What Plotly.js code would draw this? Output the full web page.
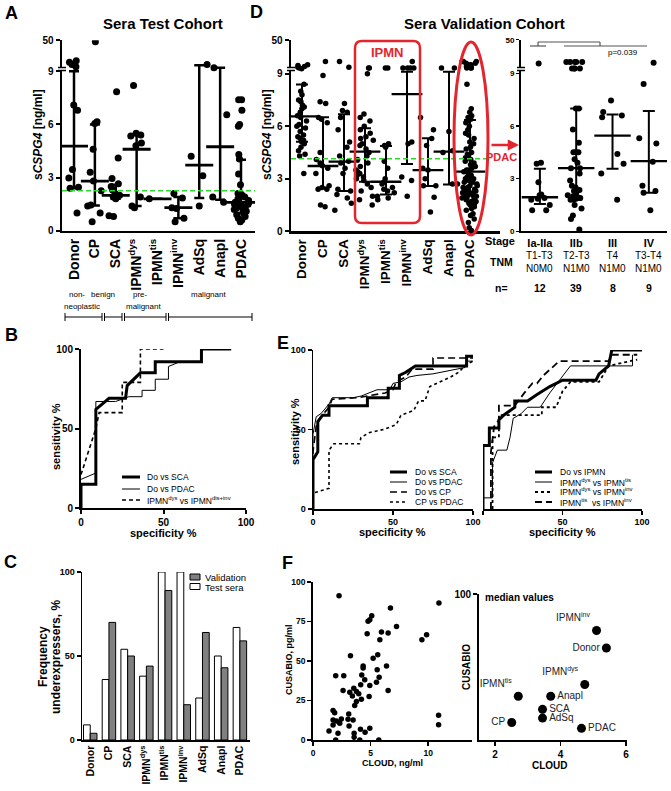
<!DOCTYPE html>
<html>
<head>
<meta charset="utf-8">
<script src="https://cdn.plot.ly/plotly-3.0.1.min.js"></script>
<style>html,body{margin:0;padding:0;background:#fff}#fig{width:671px;height:791px}</style>
</head>
<body>
<div id="fig"></div>
<script>
var cats = ['Donor', 'CP', 'SCA', 'IPMN<sup>dys</sup>', 'IPMN<sup>tis</sup>', 'IPMN<sup>inv</sup>', 'AdSq', 'Anapl', 'PDAC'];

// A - sera test cohort, sCSPG4 ng/ml (values above 9 sit on the compressed 9-50 segment)
var testDonor = [15, 18, 21, 23, 7.1, 6.8, 3.45, 2.98, 2.45, 2.4, 1.0];
var testCP = [48, 6.15, 6.05, 4.6, 3.3, 2.8, 2.25, 1.45, 1.4, 1.0, 0.5];
var testSCA = [7.85, 4.1, 2.95, 2.65, 2.5, 2.3, 2.1, 2.0, 1.9, 1.8, 0.85, 0.8];
var testDys = [8.2, 5.5, 5.4, 5.35, 4.95, 4.8, 1.9, 1.4, 1.3];
var testTis = [1.8];
var testInv = [2.1, 1.85, 1.3, 1.25, 0.7, 0.5];
var testAdSq = [18, 4.2, 3.1, 1.4];
var testAnapl = [13.7, 6.55, 1.9, 1.6];
var testPDAC = [7.4, 7.4, 6.8, 6.0, 5.9, 4.3, 4.05, 3.2, 2.6, 2.1, 2.1, 2.0, 1.9, 1.8, 1.7, 1.6, 1.6,
  1.5, 1.5, 1.4, 1.4, 1.3, 1.3, 1.2, 1.1, 1.0, 0.9, 0.8, 0.7, 0.6, 0.5];
var testMed = [4.77, 2.8, 2.0, 4.6, 1.8, 1.3, 3.7, 4.74, 1.6];
var testQ1 = [2.4, 1.42, 1.8, 1.4, 1.8, 0.7, 1.85, 1.75, 1.0];
var testQ3 = [9, 6.0, 2.6, 5.4, 1.8, 1.9, 17, 13.7, 4.0];
var testCut = 2.26;

// D - sera validation cohort
var valDonor = [15, 16, 17, 18, 19, 20, 8.4, 8.0, 7.8, 7.5, 7.4, 7.2, 7.1, 7.0, 6.8, 6.6, 6.5, 6.3, 6.1,
  6.0, 5.9, 5.7, 5.5, 5.4, 5.3, 5.2, 5.1, 5.0, 4.8, 4.6, 4.4, 4.3, 3.3];
var valCP = [24, 8.9, 7.4, 7.3, 6.5, 6.4, 6.2, 4.5, 4.1, 3.9, 3.75, 3.6, 3.3, 2.6, 2.5, 2.4, 2.4, 1.5, 1.4];
var valSCA = [24, 17, 7.3, 6.9, 6.8, 6.5, 5.8, 5.1, 4.8, 4.3, 4.0, 3.9, 3.6, 3.3, 2.4, 2.3, 2.1, 1.9, 1.6, 1.2];
var valDys = [16, 16, 9.0, 6.7, 6.5, 6.3, 6.0, 5.8, 5.6, 5.4, 5.3, 5.2, 5.0, 4.9, 4.7, 4.5, 4.3, 4.1, 3.9,
  3.7, 3.5, 3.4, 3.3, 3.2, 3.1, 3.0, 2.9, 2.7, 2.5, 2.3, 2.0, 1.8, 1.5];
var valTis = [16, 16, 5.0, 4.9, 4.8, 4.0, 3.6, 3.0, 2.8, 2.7, 2.5, 2.4, 2.3, 2.2, 2.0, 1.9, 1.8];
var valInv = [24, 16, 16, 16, 16, 5.1, 5.0, 3.1, 2.9, 2.0];
var valAdSq = [6.5, 5.8, 5.3, 4.9, 3.6, 3.5, 3.0, 2.6, 2.6, 1.95, 1.1];
var valAnapl = [16, 16, 5.7, 4.6, 4.5, 2.7, 2.7];
var valPDAC = [24, 24, 24, 22, 22, 20, 20, 18, 18, 16, 16, 16,
  8.4, 7.0, 6.8, 6.6, 6.5, 6.4, 6.3, 6.2, 6.0, 5.8, 5.6, 5.5, 5.3, 5.1, 5.0, 4.8, 4.7, 4.5, 4.4, 4.3,
  4.2, 4.1, 4.0, 3.9, 3.8, 3.7, 3.6, 3.5, 3.5, 3.4, 3.3, 3.2, 3.1, 3.0, 3.0, 2.9, 2.8, 2.8, 2.7, 2.6,
  2.6, 2.5, 2.5, 2.4, 2.4, 2.3, 2.3, 2.2, 2.2, 2.2, 2.1, 2.1, 2.0, 2.0, 2.0, 1.9, 1.9, 1.8, 1.8, 1.7,
  1.7, 1.6, 1.6, 1.5, 1.4, 1.3, 1.2, 1.0, 0.9, 0.7, 0.5, 0.2, 0.05];
var valMed = [6.57, 3.73, 3.98, 4.55, 2.83, 7.83, 3.5, 4.55, 3.41];
var valQ1 = [5.12, 2.5, 2.3, 2.83, 2.1, 3.85, 2.59, 2.68, 2.2];
var valQ3 = [8.38, 6.51, 6.68, 5.88, 4.87, 11.5, 5.31, 11.5, 6.36];
var valCut = 4.15;

// D right - PDAC by stage
var stages = ['Ia-IIa', 'IIb', 'III', 'IV'];
var tnm = ['T1-T3<br>N0M0', 'T2-T3<br>N1M0', 'T4<br>N1M0', 'T3-T4<br>N1M0'];
var nPat = [12, 39, 8, 9];
var stIa = [21, 3.9, 3.85, 2.8, 2.1, 2.05, 1.9, 1.85, 1.8, 1.5, 1.2, 1.2];
var stIIb = [23, 23, 23, 23, 23, 15, 15, 15, 15, 7.0, 7.0, 5.8, 5.05, 4.5, 4.5, 4.5, 4.1, 3.9, 3.6, 3.6,
  3.3, 2.9, 2.6, 2.5, 2.35, 2.3, 2.2, 2.05, 2.0, 1.95, 1.9, 1.85, 1.8, 1.8, 1.5, 1.3, 0.9, 0.7, 0.1];
var stIII = [7.45, 6.8, 6.6, 6.5, 4.4, 3.85, 3.3, 1.8];
var stIV = [22, 8.4, 5.3, 5.0, 3.97, 2.6, 2.3, 2.2, 1.2];
var stMed = [1.94, 3.6, 5.45, 4.0];
var stQ1 = [1.55, 1.8, 3.56, 2.2];
var stQ3 = [3.56, 7.0, 6.65, 6.85];

// B - ROC, test sera
var bSCAx = [0, 0, 9, 9, 17, 27, 28, 36, 45, 45, 73, 73, 91];
var bSCAy = [0, 15, 15, 62, 69, 69, 77, 85, 85, 92, 92, 100, 100];
var bPDACx = [0, 9, 9, 21, 29, 37, 37, 45, 45, 53, 53, 60, 73, 73, 91];
var bPDACy = [18, 22, 67, 67, 70, 70, 74, 74, 81, 81, 89, 92, 92, 100, 100];
var bIPMNx = [0, 9, 11, 25, 25, 36, 36, 50];
var bIPMNy = [21, 50, 60, 60, 79, 79, 100, 100];

// E - ROC, validation sera
var eSCAx = [0, 0, 3, 3, 6, 10, 10, 34, 34, 47, 47, 54, 54, 58, 64, 96, 96, 100];
var eSCAy = [0, 31, 36, 55, 59, 59, 65, 65, 70, 70, 76, 76, 84, 86, 90, 90, 96, 96];
var ePDACx = [0, 0, 2, 5, 10, 12, 25, 30, 40, 48, 50, 55, 60, 65, 75, 85, 95, 96, 100];
var ePDACy = [0, 47, 58, 60, 66, 70, 70, 71, 75, 75, 79, 80, 83, 84, 85, 87, 89, 93, 93];
var eCPx = [0, 0, 2, 5, 10, 12, 28, 45, 50, 52, 58, 62, 75, 75, 100];
var eCPy = [0, 36, 52, 58, 64, 69, 70, 73, 75, 80, 83, 88, 88, 95, 95];
var eCPPDx = [0, 0, 10, 10, 13, 29, 30, 35, 44, 52, 55, 63, 66, 70, 73, 80, 86, 91, 96, 100];
var eCPPDy = [0, 10, 13, 37, 41, 41, 45, 48, 50, 53, 59, 62, 68, 68, 77, 80, 83, 86, 91, 93];
var eDoIx = [0, 0, 4, 4, 10, 10, 13, 20, 20, 28, 34, 42, 50, 71, 73, 79, 81, 100];
var eDoIy = [0, 40, 40, 51, 51, 56, 59, 64, 68, 68, 72, 77, 81, 81, 85, 90, 100, 100];
var eDysTisx = [0, 6, 6, 9, 15, 17, 19, 24, 28, 36, 42, 55, 94, 94];
var eDysTisy = [7, 7, 29, 37, 37, 45, 57, 60, 64, 64, 73, 90, 90, 97];
var eDysInvx = [6, 6, 10, 10, 37, 37, 46, 50, 55, 73, 79, 97];
var eDysInvy = [0, 45, 45, 59, 59, 64, 64, 74, 80, 80, 90, 94];
var eTisInvx = [5, 5, 7, 10, 10, 20, 26, 31, 34, 38, 48, 79, 81, 97];
var eTisInvy = [0, 36, 52, 56, 65, 65, 73, 79, 79, 84, 93, 93, 97, 97];

// C - frequency of underexpressers, %
var freqTest = [9, 36, 54, 38, 100, 100, 25, 50, 67];
var freqVal = [4, 70, 50, 44, 89, 21, 64, 43, 59];

// F - CLOUD vs CUSABIO
var cloudX = [2.26, 6.72, 7.25, 10.93, 5.1, 4.93, 4.78, 4.7, 6.52, 5.94, 5.8, 9.45, 9.86, 3.25, 5.62, 5.22,
  4.35, 4.35, 6.38, 5.57, 5.74, 1.97, 2.67, 4.23, 4.49, 5.51, 4.93, 4.14, 6.52, 2.61, 3.19, 3.54, 3.77,
  3.97, 3.42, 4.87, 4.2, 3.77, 3.62, 1.74, 1.88, 3.1, 10.9, 2.46, 3.04, 3.48, 1.74, 2.03, 2.32, 1.74,
  3.13, 10.9, 1.39, 2.17, 3.57, 4.12, 4.52, 4.93, 3.57, 1.97, 4.06, 5.71];
var cusabioY = [91.3, 83.5, 71.9, 86.7, 78.6, 76.1, 75.1, 67.2, 67.7, 68.3, 63.4, 63.4, 66.6, 53.3, 53.9,
  51.8, 46.9, 45.5, 46.9, 44.4, 39.7, 40.6, 40.6, 41.2, 38.1, 36.6, 34.5, 34.9, 31.3, 31.3, 30.2, 32.8,
  30.7, 29.2, 27.9, 27.5, 25.8, 24.3, 21.8, 18.6, 17.3, 16.5, 15.6, 13.3, 13.1, 12.7, 12.7, 12.1, 10.6,
  9.5, 8.9, 9.7, 5.7, 4.2, 4.2, 6.8, 4.9, 7.4, 1.7, 0, 0, 0];
var medGroups = ['IPMN<sup>inv</sup>', 'Donor', 'IPMN<sup>dys</sup>', 'Anapl', 'IPMN<sup>tis</sup>', 'SCA', 'AdSq', 'CP', 'PDAC'];
var medCloud = [5.1, 5.4, 4.74, 3.7, 2.71, 3.45, 3.45, 2.51, 4.64];
var medCusabio = [75, 63, 38, 30, 30, 21, 15, 12, 8];
var medLabelPos = ['top left', 'middle left', 'top left', 'middle right', 'top left', 'middle right', 'middle right', 'middle left', 'middle right'];

// ---------- helpers (pixel -> paper) ----------
var W = 671, H = 791;
function fx(p) { return p / W; }
function fy(p) { return 1 - p / H; }
function xd(a, b) { return [a / W, b / W]; }
function yd(top, bot) { return [1 - bot / H, 1 - top / H]; }

// broken axis: 0-9 linear, 9-50 squeezed into the top part
function brk(v, top) { return v <= 9 ? v : 9 + (v - 9) * (top - 9) / 41; }
var topA = 10.75, topD = 10.91, topS = 10.92;

var traces = [];

function swarm(groups, names, xa, ya, top, size, jitter) {
  var x = [], y = [];
  groups.forEach(function (g, i) {
    g.forEach(function (v) { x.push(names[i]); y.push(brk(v, top)); });
  });
  return { type: 'box', x: x, y: y, xaxis: xa, yaxis: ya, boxpoints: 'all', jitter: jitter, pointpos: 0,
    fillcolor: 'rgba(0,0,0,0)', line: { width: 0, color: 'rgba(0,0,0,0)' }, whiskerwidth: 0,
    marker: { color: 'black', size: size }, hoverinfo: 'skip', showlegend: false };
}

function medbar(names, med, q1, q3, xa, ya, top, mw, cw, lw) {
  var m = med.map(function (v) { return brk(v, top); });
  return { type: 'scatter', mode: 'markers', x: names, y: m, xaxis: xa, yaxis: ya,
    error_y: { type: 'data', symmetric: false,
      array: q3.map(function (v, i) { return brk(v, top) - m[i]; }),
      arrayminus: q1.map(function (v, i) { return m[i] - brk(v, top); }),
      width: cw, thickness: lw, color: 'black' },
    marker: { symbol: 'line-ew-open', size: mw, color: 'black', line: { width: lw + 0.3, color: 'black' } },
    hoverinfo: 'skip', showlegend: false };
}

function roc(x, y, xa, ya, width, dash) {
  return { type: 'scatter', mode: 'lines', x: x, y: y, xaxis: xa, yaxis: ya,
    line: { color: 'black', width: width, dash: dash || 'solid' }, hoverinfo: 'skip', showlegend: false };
}

// A
traces.push(swarm([testDonor, testCP, testSCA, testDys, testTis, testInv, testAdSq, testAnapl, testPDAC],
  cats, 'x', 'y', topA, 7, 0.8));
traces.push(medbar(cats, testMed, testQ1, testQ3, 'x', 'y', topA, 20, 5, 2.5));
// D
traces.push(swarm([valDonor, valCP, valSCA, valDys, valTis, valInv, valAdSq, valAnapl, valPDAC],
  cats, 'x2', 'y2', topD, 5.5, 0.9));
traces.push(medbar(cats, valMed, valQ1, valQ3, 'x2', 'y2', topD, 22, 6, 2));
// stage
traces.push(swarm([stIa, stIIb, stIII, stIV], stages, 'x3', 'y3', topS, 6, 0.7));
traces.push(medbar(stages, stMed, stQ1, stQ3, 'x3', 'y3', topS, 26, 6, 2));
// B
traces.push(roc(bSCAx, bSCAy, 'x4', 'y4', 3));
traces.push(roc(bPDACx, bPDACy, 'x4', 'y4', 1));
traces.push(roc(bIPMNx, bIPMNy, 'x4', 'y4', 1.6, '4px,3px'));
// E
traces.push(roc(eSCAx, eSCAy, 'x5', 'y5', 3));
traces.push(roc(ePDACx, ePDACy, 'x5', 'y5', 1));
traces.push(roc(eCPx, eCPy, 'x5', 'y5', 1.6, '7px,4px'));
traces.push(roc(eCPPDx, eCPPDy, 'x5', 'y5', 1.6, '3px,3px'));
traces.push(roc(eDoIx, eDoIy, 'x6', 'y6', 3));
traces.push(roc(eDysTisx, eDysTisy, 'x6', 'y6', 1));
traces.push(roc(eDysInvx, eDysInvy, 'x6', 'y6', 1.8, '3px,3px'));
traces.push(roc(eTisInvx, eTisInvy, 'x6', 'y6', 1.8, '7px,4px'));
// C
traces.push({ type: 'bar', name: 'Test sera', x: cats, y: freqTest, xaxis: 'x7', yaxis: 'y7',
  marker: { color: 'white', line: { color: 'black', width: 1 } }, hoverinfo: 'skip', showlegend: false });
traces.push({ type: 'bar', name: 'Validation', x: cats, y: freqVal, xaxis: 'x7', yaxis: 'y7',
  marker: { color: '#808080', line: { color: 'black', width: 1 } }, hoverinfo: 'skip', showlegend: false });
// F
traces.push({ type: 'scatter', mode: 'markers', x: cloudX, y: cusabioY, xaxis: 'x8', yaxis: 'y8',
  marker: { color: 'black', size: 5.5 }, hoverinfo: 'skip', showlegend: false });
traces.push({ type: 'scatter', mode: 'markers+text', x: medCloud, y: medCusabio, text: medGroups,
  textposition: medLabelPos, textfont: { size: 10, color: '#222' }, xaxis: 'x9', yaxis: 'y9',
  marker: { color: 'black', size: 9 }, hoverinfo: 'skip', showlegend: false });

// ---------- axes ----------
function ax(o) {
  var a = { showgrid: false, zeroline: false, showline: true, linecolor: 'black', linewidth: 2,
    ticks: 'outside', ticklen: 4, tickwidth: 2, tickcolor: 'black',
    tickfont: { size: 10, weight: 'bold', color: 'black' }, fixedrange: true };
  for (var k in o) a[k] = o[k];
  return a;
}

var layout = {
  width: W, height: H, margin: { l: 0, r: 0, t: 0, b: 0 },
  paper_bgcolor: 'white', plot_bgcolor: 'rgba(0,0,0,0)',
  font: { family: 'Liberation Sans, Arial, sans-serif', color: 'black' },
  showlegend: false, hovermode: false,
  boxmode: 'overlay', boxgap: 0, boxgroupgap: 0,
  barmode: 'group', bargap: 0.28, bargroupgap: 0,

  xaxis: ax({ domain: xd(62, 255), anchor: 'y', type: 'category', categoryorder: 'array', categoryarray: cats,
    range: [-0.575, 8.67], tickangle: -90, ticks: '', linewidth: 2.5, tickfont: { size: 14, weight: 'bold' } }),
  yaxis: ax({ domain: yd(40.3, 230.7), anchor: 'x', range: [0, topA], linewidth: 2.5,
    tickvals: [0, 3, 6, 9, topA], ticktext: ['0', '3', '6', '9', '50'] }),

  xaxis2: ax({ domain: xd(291, 500), anchor: 'y2', type: 'category', categoryorder: 'array', categoryarray: cats,
    range: [-0.524, 9.43], tickangle: -90, ticks: '', linewidth: 2.5, tickfont: { size: 13.5, weight: 'bold' } }),
  yaxis2: ax({ domain: yd(40.3, 231.3), anchor: 'x2', range: [0, topD], linewidth: 2.5,
    tickvals: [0, 3, 6, 9, topD], ticktext: ['0', '3', '6', '9', '50'] }),

  xaxis3: ax({ domain: xd(521, 667), anchor: 'y3', type: 'category', categoryorder: 'array', categoryarray: stages,
    range: [-0.52, 3.5], ticks: '', tickfont: { size: 11, weight: 'bold' } }),
  yaxis3: ax({ domain: yd(39.7, 231.3), anchor: 'x3', range: [0, topS], ticklen: 3, tickwidth: 1.5,
    tickvals: [0, 3, 6, 9, topS], ticktext: ['0', '3', '6', '9', '50'], tickfont: { size: 8, weight: 'bold' } }),

  xaxis4: ax({ domain: xd(81, 246), anchor: 'y4', range: [0, 100], tickvals: [0, 50, 100] }),
  yaxis4: ax({ domain: yd(349, 508), anchor: 'x4', range: [0, 100], tickvals: [0, 50, 100] }),

  xaxis5: ax({ domain: xd(313, 473), anchor: 'y5', range: [0, 100], tickvals: [0, 50, 100], linewidth: 1.5,
    tickwidth: 1.5, tickfont: { size: 9, weight: 'bold' } }),
  yaxis5: ax({ domain: yd(350, 509), anchor: 'x5', range: [0, 100], tickvals: [0, 50, 100], linewidth: 1.5,
    tickwidth: 1.5, tickfont: { size: 9, weight: 'bold' } }),
  xaxis6: ax({ domain: xd(483, 642), anchor: 'y6', range: [0, 100], tickvals: [0, 50, 100], linewidth: 1.5,
    tickwidth: 1.5, tickfont: { size: 9, weight: 'bold' }, ticktext: ['', '50', '100'] }),
  yaxis6: ax({ domain: yd(350, 509), anchor: 'x6', range: [0, 100], showline: false, ticks: '', showticklabels: false }),

  xaxis7: ax({ domain: xd(82, 250), anchor: 'y7', type: 'category', categoryorder: 'array', categoryarray: cats,
    range: [-0.44, 8.54], tickangle: -90, ticks: '', linewidth: 1.5, tickfont: { size: 10.5, weight: 'bold' } }),
  yaxis7: ax({ domain: yd(572, 740), anchor: 'x7', range: [0, 100], tickvals: [0, 50, 100], linewidth: 1.5,
    tickwidth: 1.5, tickfont: { size: 9, weight: 'bold' } }),

  xaxis8: ax({ domain: xd(313, 472), anchor: 'y8', range: [0, 13.8], tickvals: [0, 5, 10], linewidth: 1.8,
    tickwidth: 1.5, tickfont: { size: 8.5, weight: 'bold' } }),
  yaxis8: ax({ domain: yd(582, 740), anchor: 'x8', range: [0, 100], tickvals: [0, 25, 50, 75, 100], linewidth: 1.8,
    tickwidth: 1.5, tickfont: { size: 8.5, weight: 'bold' } }),
  xaxis9: ax({ domain: xd(479, 627), anchor: 'y9', range: [1.51, 6.03], tickvals: [2, 4, 6], linewidth: 1.8,
    tickwidth: 1.5, tickfont: { size: 10, weight: 'bold' } }),
  yaxis9: ax({ domain: yd(594, 740), anchor: 'x9', range: [0, 100], tickvals: [100], linewidth: 1.8,
    tickwidth: 1.5, tickfont: { size: 10, weight: 'bold' } })
};

// ---------- shapes ----------
var red = '#e3262e';
function seg(x0, y0, x1, y1, color, width, dash) {
  return { type: 'line', xref: 'paper', yref: 'paper', x0: fx(x0), y0: fy(y0), x1: fx(x1), y1: fy(y1),
    line: { color: color || 'black', width: width || 1, dash: dash || 'solid' } };
}
function rrect(x0, y0, x1, y1, r) {
  function p(x, y) { return fx(x) + ',' + fy(y); }
  return 'M' + p(x0 + r, y0) + ' L' + p(x1 - r, y0) + ' Q' + p(x1, y0) + ' ' + p(x1, y0 + r) +
    ' L' + p(x1, y1 - r) + ' Q' + p(x1, y1) + ' ' + p(x1 - r, y1) + ' L' + p(x0 + r, y1) +
    ' Q' + p(x0, y1) + ' ' + p(x0, y1 - r) + ' L' + p(x0, y0 + r) + ' Q' + p(x0, y0) + ' ' + p(x0 + r, y0) + ' Z';
}
function breakMark(axX) {
  return [
    { type: 'rect', xref: 'paper', yref: 'paper', x0: fx(axX - 2), x1: fx(axX + 2), y0: fy(70.5), y1: fy(67.5),
      fillcolor: 'white', line: { width: 0 } },
    seg(axX - 4, 67.5, axX + 4, 67.5, 'black', 1.5),
    seg(axX - 4, 70.5, axX + 4, 70.5, 'black', 1.5)
  ];
}

var shapes = [
  { type: 'line', xref: 'x domain', yref: 'y', x0: 0, x1: 1, y0: testCut, y1: testCut,
    line: { color: '#2fd42f', width: 1.5, dash: '5px,3px' } },
  { type: 'line', xref: 'x2 domain', yref: 'y2', x0: 0, x1: 0.94, y0: valCut, y1: valCut,
    line: { color: '#2fd42f', width: 1.5, dash: '5px,3px' } },
  { type: 'path', path: rrect(355, 41, 420, 223, 7), xref: 'paper', yref: 'paper', line: { color: red, width: 2.5 } },
  { type: 'circle', xref: 'paper', yref: 'paper', x0: fx(454), x1: fx(488), y0: fy(235), y1: fy(42),
    line: { color: red, width: 3 } },
  // stage comparison brackets
  seg(530, 46, 546, 46, '#555', 1.2),
  seg(538, 46, 538, 42, '#555', 1.2), seg(538, 42, 600, 42, '#555', 1.2), seg(600, 42, 600, 46, '#555', 1.2),
  seg(564, 46, 647, 46, '#555', 1.2)
];
shapes = shapes.concat(breakMark(62), breakMark(291), breakMark(521));

// class bracket under A
[[65, 102], [104.5, 122], [124.5, 166], [168.5, 252]].forEach(function (s) {
  shapes.push(seg(s[0], 317, s[1], 317));
  shapes.push(seg(s[0], 313, s[0], 321));
  shapes.push(seg(s[1], 313, s[1], 321));
});

// manual legends
function legLine(x0, x1, y, w, dash) { shapes.push(seg(x0, y, x1, y, 'black', w, dash)); }
legLine(122, 140, 477, 3); legLine(122, 140, 489, 1); legLine(122, 140, 500, 1.6, '4px,3px');
legLine(390, 407, 472, 3); legLine(390, 407, 482, 1); legLine(390, 407, 492, 1.6, '7px,4px'); legLine(390, 407, 502, 1.6, '3px,3px');
legLine(535, 552, 472, 3); legLine(535, 552, 482, 1); legLine(535, 552, 492, 1.8, '3px,3px'); legLine(535, 552, 502, 1.8, '7px,4px');
shapes.push({ type: 'rect', xref: 'paper', yref: 'paper', x0: fx(190), x1: fx(200), y0: fy(580), y1: fy(574),
  fillcolor: '#808080', line: { color: 'black', width: 1 } });
shapes.push({ type: 'rect', xref: 'paper', yref: 'paper', x0: fx(190), x1: fx(200), y0: fy(589.5), y1: fy(583.5),
  fillcolor: 'white', line: { color: 'black', width: 1 } });
layout.shapes = shapes;

// ---------- text ----------
function txt(s, x, y, size, o) {
  var a = { text: s, xref: 'paper', yref: 'paper', x: fx(x), y: fy(y), showarrow: false,
    font: { size: size, color: 'black' }, xanchor: 'center', yanchor: 'middle' };
  for (var k in o) a[k] = o[k];
  return a;
}
var L = { xanchor: 'left' };
var V = { textangle: -90 };
var ann = [
  txt('<b>A</b>', 11, 13, 18), txt('<b>D</b>', 256, 12, 18), txt('<b>B</b>', 11, 335, 18),
  txt('<b>E</b>', 283, 343, 18), txt('<b>C</b>', 10, 562, 18), txt('<b>F</b>', 287, 563, 18),
  txt('<b>Sera Test Cohort</b>', 163, 23, 15), txt('<b>Sera Validation Cohort</b>', 484, 23, 15),
  txt('<b>s<i>CSPG4</i> [ng/ml]</b>', 38, 135, 12, V), txt('<b>s<i>CSPG4</i> [ng/ml]</b>', 267, 135, 12, V),
  txt('non-', 77, 294, 8), txt('neoplastic', 82, 306, 8), txt('benign', 103, 294, 8),
  txt('pre-', 140, 294, 8), txt('malignant', 143, 306, 8), txt('malignant', 208, 294, 8),
  txt('<b>IPMN</b>', 387, 53, 13, { font: { size: 13, color: red } }),
  txt('<b>PDAC</b>', 501, 157, 11, { font: { size: 11, color: red } }),
  { x: fx(519), y: fy(145), xref: 'paper', yref: 'paper', text: '', showarrow: true, ax: -29, ay: 0,
    arrowcolor: red, arrowwidth: 2.5, arrowhead: 2, arrowsize: 0.9 },
  txt('p=0.039', 623, 53, 8),
  txt('<b>Stage</b>', 500, 241, 11), txt('<b>TNM</b>', 502, 262, 10.5), txt('<b>n=</b>', 501, 288, 10.5),
  txt('<b>sensitivity %</b>', 56, 437, 11, V), txt('<b>specificity %</b>', 163, 533, 11),
  txt('<b>sensitivity %</b>', 295, 432, 11, V), txt('<b>specificity %</b>', 392, 532, 11),
  txt('<b>specificity %</b>', 562, 532, 11),
  txt('Do vs SCA', 145, 477, 8.5, L), txt('Do vs PDAC', 145, 489, 8.5, L),
  txt('IPMN<sup>dys</sup> vs IPMN<sup>dis+inv</sup>', 145, 500, 8.5, L),
  txt('Do vs SCA', 413, 472, 8.5, L), txt('Do vs PDAC', 413, 482, 8.5, L),
  txt('Do vs CP', 413, 492, 8.5, L), txt('CP vs PDAC', 413, 502, 8.5, L),
  txt('Do vs IPMN', 558, 472, 8.5, L), txt('IPMN<sup>dys</sup> vs IPMN<sup>tis</sup>', 558, 482, 8.5, L),
  txt('IPMN<sup>dys</sup> vs IPMN<sup>inv</sup>', 558, 492, 8.5, L),
  txt('IPMN<sup>tis</sup>  vs IPMN<sup>inv</sup>', 558, 502, 8.5, L),
  txt('<b>Frequency</b>', 43, 657, 12, V), txt('<b>underexpressers, %</b>', 56, 657, 12, V),
  txt('Validation', 203, 577, 9.5, L), txt('Test sera', 203, 587, 9.5, L),
  txt('<b>CLOUD, ng/ml</b>', 392, 763, 9), txt('<b>CUSABIO, pg/ml</b>', 289, 660, 9, V),
  txt('<b>CLOUD</b>', 550, 765, 10), txt('<b>CUSABIO</b>', 466, 667, 10, V),
  txt('<b>median values</b>', 483, 597, 10, L)
];
stages.forEach(function (s, i) {
  ann.push({ text: tnm[i], xref: 'x3', yref: 'paper', x: i, y: fy(262), showarrow: false,
    font: { size: 10, color: 'black' }, xanchor: 'center', yanchor: 'middle' });
  ann.push({ text: '<b>' + nPat[i] + '</b>', xref: 'x3', yref: 'paper', x: i, y: fy(288), showarrow: false,
    font: { size: 10.5, color: 'black' }, xanchor: 'center', yanchor: 'middle' });
});
layout.annotations = ann;

Plotly.newPlot('fig', traces, layout, { staticPlot: true, displayModeBar: false });
</script>
</body>
</html>
